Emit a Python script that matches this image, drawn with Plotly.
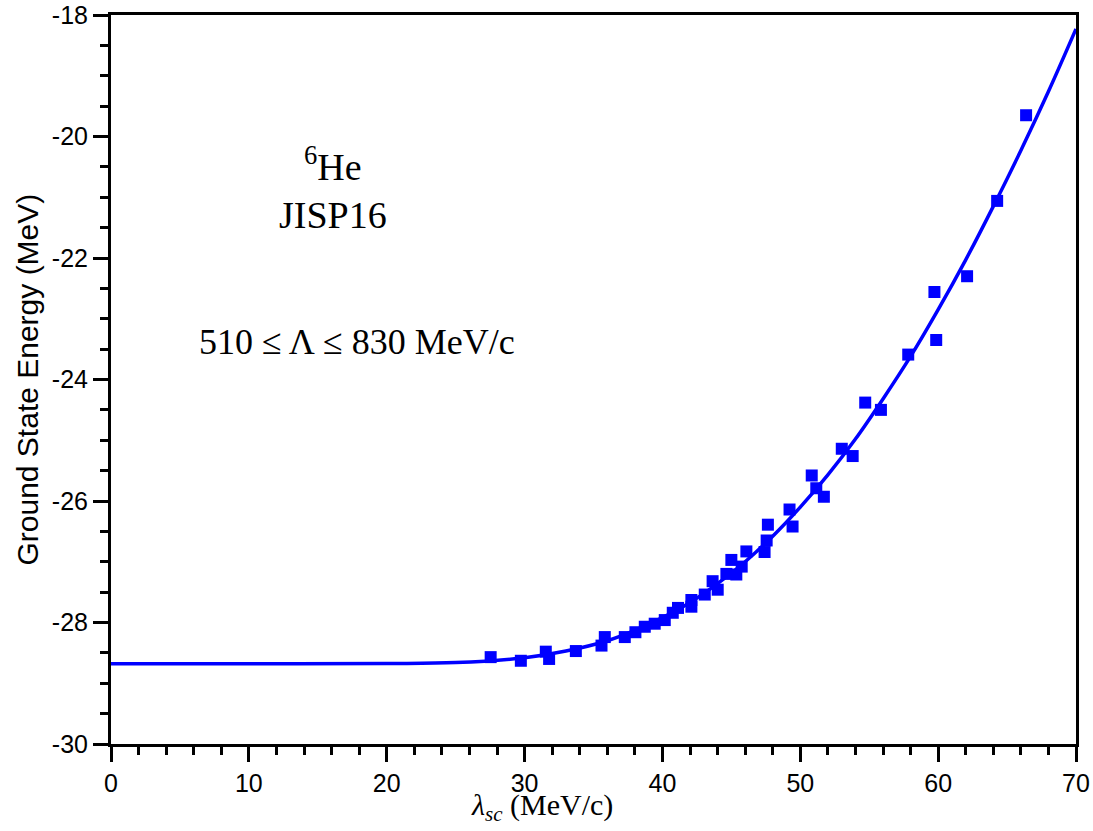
import plotly.graph_objects as go

# Data points (lambda_sc in MeV/c, ground state energy in MeV)
lam_sc = [27.54, 29.73, 31.54, 31.78, 33.72, 35.58, 35.82, 37.27, 38.04, 38.72,
          39.44, 40.17, 40.75, 41.13, 42.10, 42.10, 43.07, 43.64, 44.01, 44.64,
          45.36, 45.00, 45.75, 46.09, 47.41, 47.56, 47.65, 49.22, 49.44, 50.83,
          51.16, 51.71, 53.01, 53.80, 54.71, 55.85, 57.83, 59.73, 59.86, 62.10,
          64.28, 66.38]
energy = [-28.57, -28.63, -28.48, -28.60, -28.47, -28.38, -28.24, -28.24, -28.16, -28.07,
          -28.02, -27.96, -27.84, -27.76, -27.74, -27.63, -27.54, -27.32, -27.46, -27.20,
          -27.21, -26.97, -27.08, -26.83, -26.84, -26.65, -26.39, -26.14, -26.42, -25.58,
          -25.79, -25.93, -25.14, -25.26, -24.38, -24.50, -23.59, -22.56, -23.35, -22.30,
          -21.06, -19.65]

# Fit curve
curve_x = [0, 10, 20, 25, 30, 33, 36, 38, 40, 42, 44, 46, 48, 50, 52, 54, 56, 58,
           60, 62, 64, 66, 68, 70]
curve_y = [-28.68, -28.68, -28.675, -28.66, -28.58, -28.47, -28.30, -28.13, -27.92,
           -27.67, -27.36, -27.00, -26.58, -26.10, -25.57, -24.98, -24.32, -23.62,
           -22.85, -22.03, -21.15, -20.23, -19.26, -18.23]

x_ticks = [0, 10, 20, 30, 40, 50, 60, 70]
y_ticks = [-30, -28, -26, -24, -22, -20, -18]

BLUE = "#0000ff"
SANS = "Liberation Sans, Arial, sans-serif"
SERIF = "Liberation Serif, Times New Roman, serif"

fig = go.Figure()
fig.add_trace(go.Scatter(x=curve_x, y=curve_y, mode="lines",
                         line=dict(color=BLUE, width=3.5, shape="spline"),
                         hoverinfo="skip", showlegend=False))
fig.add_trace(go.Scatter(x=lam_sc, y=energy, mode="markers",
                         marker=dict(symbol="square", size=12, color=BLUE),
                         showlegend=False))

axis_common = dict(showline=True, linecolor="black", linewidth=3, mirror=True,
                   ticks="outside", ticklen=15, tickwidth=2.5, tickcolor="black",
                   showgrid=False, zeroline=False, automargin=False,
                   ticklabeloverflow="allow",
                   tickfont=dict(family=SANS, size=25, color="black"))

fig.update_xaxes(range=[0, 70], tickvals=x_ticks, ticktext=[str(v) for v in x_ticks],
                 minor=dict(ticks="outside", ticklen=8, tickwidth=2.5, tickcolor="black",
                            dtick=2, tick0=0, showgrid=False),
                 **axis_common)
fig.update_yaxes(range=[-30, -18], tickvals=y_ticks, ticktext=[str(v) for v in y_ticks],
                 minor=dict(ticks="outside", ticklen=8, tickwidth=2.5, tickcolor="black",
                            dtick=0.5, tick0=-30, showgrid=False),
                 **axis_common)

annotations = [
    dict(x=16.1, y=-20.45, xref="x", yref="y", text="<sup>6</sup>He",
         showarrow=False, font=dict(family=SERIF, size=38, color="black")),
    dict(x=16.1, y=-21.3, xref="x", yref="y", text="JISP16",
         showarrow=False, font=dict(family=SERIF, size=38, color="black")),
    dict(x=17.85, y=-23.38, xref="x", yref="y", text="510 ≤ Λ ≤ 830 MeV/c",
         showarrow=False, font=dict(family=SERIF, size=36, color="black")),
    dict(x=31.3, y=-0.087, xref="x", yref="paper", xanchor="center", yanchor="middle",
         text="<i>λ<sub>sc</sub></i> (MeV/c)",
         showarrow=False, font=dict(family=SERIF, size=30, color="black")),
    dict(x=-0.087, y=0.5, xref="paper", yref="paper", xanchor="center", yanchor="middle",
         textangle=-90, text="Ground State Energy (MeV)",
         showarrow=False, font=dict(family=SANS, size=30, color="black")),
]

fig.update_layout(width=1093, height=831,
                  margin=dict(l=111, r=17, t=15, b=87, autoexpand=False),
                  paper_bgcolor="white", plot_bgcolor="white",
                  annotations=annotations)

fig.write_html("out.html", config={"displayModeBar": False},
               post_script="document.body.style.margin='0';document.body.style.overflow='hidden';")
